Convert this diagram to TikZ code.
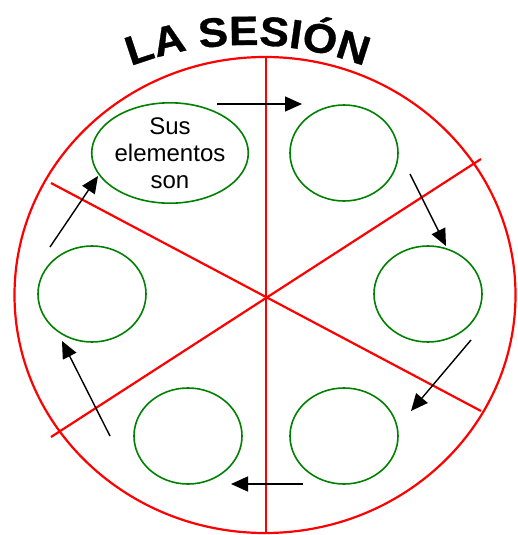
\documentclass[tikz,border=0pt]{standalone}
\usepackage{fontspec}
\setmainfont{Liberation Sans}
\usetikzlibrary{shapes.geometric,arrows.meta,decorations.text}
\newfontfamily\titlefont[FakeStretch=1.08,FakeBold=0.8]{Liberation Sans Bold}
\tikzset{
  cell/.style={draw=green!50!black, line width=1.6pt, ellipse, inner sep=0pt, minimum width=108pt, minimum height=96pt},
  redline/.style={draw=red, line width=2.2pt},
  flow/.style={draw=black, line width=1.4pt, -{Triangle[length=17pt,width=15pt]}},
}
\begin{document}
\begin{tikzpicture}[x=1pt,y=-1pt]
\useasboundingbox (0,0) rectangle (518,535);
% big circle
\node[draw=red, line width=2.2pt, ellipse, inner sep=0pt, minimum width=501pt, minimum height=476pt] (big) at (265,295) {};
% dividing lines
\coordinate (vtop) at (266,58);
\coordinate (vbot) at (266,533);
\coordinate (d1a) at (51,183);
\coordinate (d1b) at (481,411);
\coordinate (d2a) at (481,159);
\coordinate (d2b) at (51,437);
\draw[red, line width=1.6pt] (vtop) -- (vbot);
\draw[redline] (d1a) -- (d1b);
\draw[redline] (d2a) -- (d2b);
% title
\path[decorate, decoration={text along path, text align=center,
  text={|\titlefont\fontsize{41}{41}\selectfont|LA SESIÓN}}]
  (134,65) arc[start angle=110, end angle=70, radius=332pt];
% cells
\node[cell, minimum width=146pt, minimum height=95pt, align=center, font=\fontsize{24}{27}\selectfont] (e1) at (170,153) {Sus\\elementos\\son};
\node[cell] (e2) at (344,153) {};
\node[cell] (e3) at (428,294) {};
\node[cell] (e4) at (344,436) {};
\node[cell] (e5) at (188,436) {};
\node[cell] (e6) at (92,294) {};
% arrows
\coordinate (a1s) at (217,104); \coordinate (a1e) at (302,104);
\coordinate (a2s) at (410,174); \coordinate (a2e) at (446,246);
\coordinate (a3s) at (471,340); \coordinate (a3e) at (411,411);
\coordinate (a4s) at (303,484); \coordinate (a4e) at (231,484);
\coordinate (a5s) at (110,436); \coordinate (a5e) at (62,341);
\coordinate (a6s) at (50,247); \coordinate (a6e) at (98,176);
\draw[flow] (a1s) -- (a1e);
\draw[flow] (a2s) -- (a2e);
\draw[flow] (a3s) -- (a3e);
\draw[flow] (a4s) -- (a4e);
\draw[flow] (a5s) -- (a5e);
\draw[flow] (a6s) -- (a6e);
\end{tikzpicture}
\end{document}
